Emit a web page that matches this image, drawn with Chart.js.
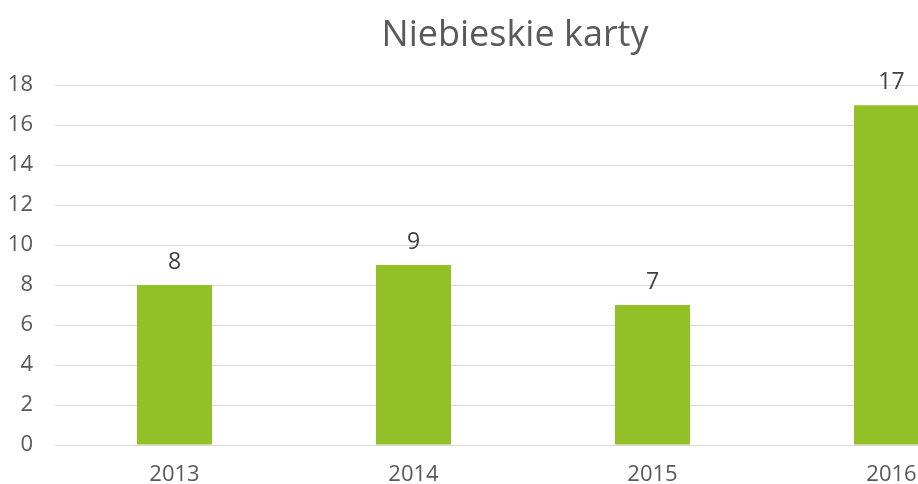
<!DOCTYPE html>
<html><head><meta charset="utf-8">
<script src="https://cdn.jsdelivr.net/npm/chart.js@4"></script>
<style>
html,body{margin:0;padding:0;overflow:hidden;background:#fff;width:918px;height:484px;}
#wrap{position:absolute;left:0;top:0;width:1030px;height:484px;}
</style></head><body>
<div id="wrap"><canvas id="c" width="1030" height="484"></canvas></div>
<script>
const categories = ['2013', '2014', '2015', '2016'];
const values = [8, 9, 7, 17];
const yTicks = [0, 2, 4, 6, 8, 10, 12, 14, 16, 18];
const title = 'Niebieskie karty';

const FONT = "'Open Sans', sans-serif";

const labelPlugin = {
  id: 'valueLabels',
  afterLayout(chart) {
    if (chart.titleBlock) { chart.titleBlock.left = 0; chart.titleBlock.right = chart.width; }
  },
  afterDatasetsDraw(chart) {
    const ctx = chart.ctx;
    const meta = chart.getDatasetMeta(0);
    ctx.save();
    ctx.font = "23px " + FONT;
    ctx.fillStyle = '#404040';
    ctx.textAlign = 'center';
    ctx.textBaseline = 'alphabetic';
    meta.data.forEach((bar, i) => {
      ctx.fillText(String(values[i]), bar.x, bar.y - 16);
    });
    ctx.restore();
  }
};

new Chart(document.getElementById('c'), {
  type: 'bar',
  data: {
    labels: categories,
    datasets: [{
      data: values,
      backgroundColor: '#92C027',
      borderWidth: 0,
      categoryPercentage: 1,
      barPercentage: 0.314
    }]
  },
  options: {
    responsive: false,
    animation: false,
    layout: { padding: { left: 0, right: 19, top: 0, bottom: 0 } },
    plugins: {
      legend: { display: false },
      tooltip: { enabled: false },
      title: {
        display: true,
        text: title,
        color: '#595959',
        font: { family: FONT, size: 36, weight: 'normal' },
        padding: { top: 14, bottom: 28 }
      }
    },
    scales: {
      x: {
        grid: { display: false, drawTicks: false },
        border: { display: false },
        ticks: { color: '#595959', font: { family: FONT, size: 22 }, padding: 17, maxRotation: 0 },
        afterFit(s) { s.height = 39; }
      },
      y: {
        min: 0, max: 18,
        afterBuildTicks(s) { s.ticks = yTicks.map(v => ({ value: v })); },
        grid: { color: '#D9D9D9', lineWidth: 1, drawTicks: false },
        border: { display: false },
        ticks: { color: '#595959', font: { family: FONT, size: 22 }, padding: 22 },
        afterFit(s) { s.width = 55; }
      }
    }
  },
  plugins: [labelPlugin]
});
</script>
</body></html>
